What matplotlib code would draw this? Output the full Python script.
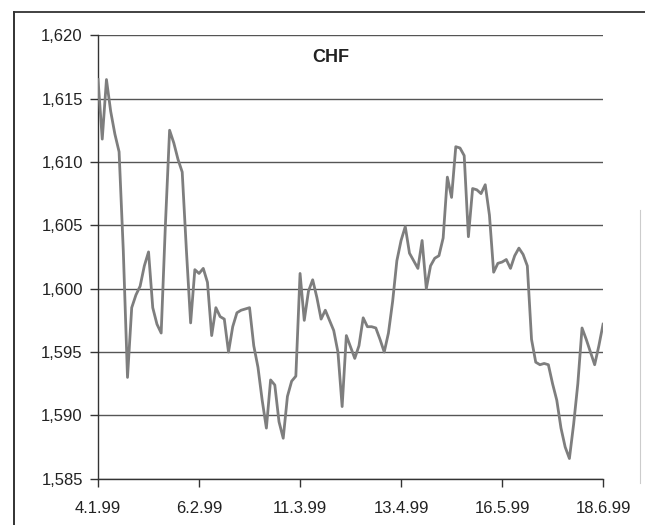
import matplotlib
matplotlib.use('Agg')
import matplotlib.pyplot as plt
from matplotlib.lines import Line2D
from matplotlib.ticker import FuncFormatter

plt.rcParams['font.family'] = ['Liberation Sans', 'DejaVu Sans']

# CHF daily fixings, 4.1.99 - 18.6.99
chf = [
    1.6165, 1.6118, 1.6165, 1.6140, 1.6122, 1.6108, 1.6030, 1.5930, 1.5985, 1.5995,
    1.6002, 1.6018, 1.6029, 1.5985, 1.5972, 1.5965, 1.6050, 1.6125, 1.6115, 1.6102,
    1.6092, 1.6030, 1.5973, 1.6015, 1.6012, 1.6016, 1.6005, 1.5963, 1.5985, 1.5978,
    1.5976, 1.5950, 1.5970, 1.5981, 1.5983, 1.5984, 1.5985, 1.5955, 1.5938, 1.5912,
    1.5890, 1.5928, 1.5924, 1.5895, 1.5882, 1.5915, 1.5927, 1.5931, 1.6012, 1.5975,
    1.5998, 1.6007, 1.5993, 1.5976, 1.5983, 1.5975, 1.5967, 1.5950, 1.5907, 1.5963,
    1.5954, 1.5945, 1.5955, 1.5977, 1.5970, 1.5970, 1.5969, 1.5960, 1.5950, 1.5965,
    1.5990, 1.6022, 1.6038, 1.6049, 1.6028, 1.6022, 1.6016, 1.6038, 1.6000, 1.6018,
    1.6024, 1.6026, 1.6040, 1.6088, 1.6072, 1.6112, 1.6111, 1.6105, 1.6041, 1.6079,
    1.6078, 1.6075, 1.6082, 1.6058, 1.6013, 1.6020, 1.6021, 1.6023, 1.6016, 1.6026,
    1.6032, 1.6027, 1.6018, 1.5960, 1.5942, 1.5940, 1.5941, 1.5940, 1.5925, 1.5912,
    1.5890, 1.5875, 1.5866, 1.5893, 1.5925, 1.5969, 1.5960, 1.5950, 1.5940, 1.5955,
    1.5972,
]
date_labels = ['4.1.99', '6.2.99', '11.3.99', '13.4.99', '16.5.99', '18.6.99']
y_ticks = [1.585, 1.590, 1.595, 1.600, 1.605, 1.610, 1.615, 1.620]

fig = plt.figure(figsize=(6.45, 5.25), dpi=100)
ax = fig.add_axes([0.152, 0.088, 0.783, 0.845])

n = len(chf)
ax.plot(range(n), chf, color='#7e7e7e', lw=2.0, solid_joinstyle='round', zorder=3)

ax.set_xlim(0, n - 1)
ax.set_ylim(y_ticks[0], y_ticks[-1])
step = (n - 1) / (len(date_labels) - 1)
ax.set_xticks([i * step for i in range(len(date_labels))])
ax.set_xticklabels(date_labels)
ax.set_yticks(y_ticks)
ax.yaxis.set_major_formatter(FuncFormatter(lambda v, p: f'{v:.3f}'.replace('.', ',')))

ax.grid(axis='y', color='#555555', lw=1.0)
ax.set_axisbelow(True)
for s in ['top', 'right']:
    ax.spines[s].set_visible(False)
for s in ['left', 'bottom']:
    ax.spines[s].set_color('#333333')
    ax.spines[s].set_linewidth(1.0)
ax.tick_params(axis='both', direction='out', length=6, width=1.0, color='#333333',
               labelsize=12, labelcolor='#222222')
ax.tick_params(axis='y', pad=5)
ax.tick_params(axis='x', pad=10)

ax.text(0.461, 0.950, 'CHF', transform=ax.transAxes, ha='center', va='center',
        fontsize=13, fontweight='bold', color='#222222')

# outer frame of the scanned figure
fig.add_artist(Line2D([0.022, 0.022], [0.0, 0.977], transform=fig.transFigure,
                      color='#222222', lw=1.3))
fig.add_artist(Line2D([0.022, 1.0], [0.977, 0.977], transform=fig.transFigure,
                      color='#333333', lw=1.3))
fig.add_artist(Line2D([0.992, 0.992], [0.08, 0.6], transform=fig.transFigure,
                      color='#cccccc', lw=0.8))

fig.savefig('out.png', dpi=100)
